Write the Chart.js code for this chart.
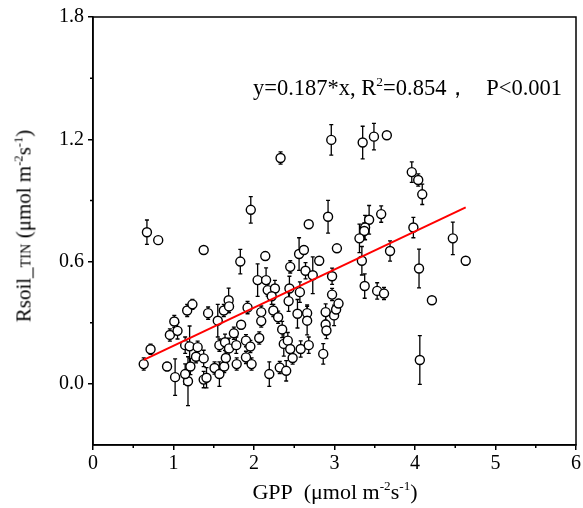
<!DOCTYPE html>
<html>
<head>
<meta charset="utf-8">
<script src="https://cdn.jsdelivr.net/npm/chart.js@4.4.1/dist/chart.umd.min.js"></script>
<style>
body{margin:0;background:#fff;}
#wrap{position:relative;width:583px;height:508px;}
.lbl{position:absolute;font-family:"Liberation Serif","Times New Roman",serif;color:#000;white-space:nowrap;}
.lbl sup{font-size:0.6em;vertical-align:0.65em;line-height:0;}
.sm{font-size:0.68em;}
#xt{left:93px;width:484px;text-align:center;top:481px;font-size:22px;line-height:22px;}
#yt{left:25px;top:226px;font-size:21px;line-height:21px;transform:translate(-50%,-50%) rotate(-90deg);}
#eq{left:253px;top:77px;font-size:22.5px;line-height:22px;}
</style>
</head>
<body>
<div id="wrap">
<canvas id="c" width="583" height="508"></canvas>
<div class="lbl" id="xt">GPP&nbsp;&nbsp;(μmol m<sup>-2</sup>s<sup>-1</sup>)</div>
<div class="lbl" id="yt">Rsoil_<span class="sm">TIN</span> (μmol m<sup>-2</sup>s<sup>-1</sup>)</div>
<div class="lbl" id="eq">y=0.187*x, R<sup>2</sup>=0.854，&nbsp;&nbsp;&nbsp;P&lt;0.001</div>
</div>
<script>
// GPP (x), Rsoil_TIN (y) and error bar half-height
const gppX = [0.63,0.715,0.92,1.02,0.955,1.01,1.05,1.17,1.235,1.145,1.2,1.18,1.145,1.21,1.30,1.28,1.375,1.375,1.41,1.43,
  1.51,1.55,1.57,1.57,1.625,1.64,1.63,1.65,1.685,1.69,1.69,1.75,1.785,1.78,1.84,1.83,1.90,1.90,1.92,1.955,
  1.97,2.045,2.065,2.09,2.09,2.14,2.15,2.17,2.19,2.24,2.26,2.30,2.32,2.35,2.37,2.40,2.42,2.43,2.44,2.45,
  2.45,2.48,2.54,2.57,2.58,2.56,2.64,2.66,2.66,2.68,2.73,2.81,2.86,2.89,2.89,2.90,2.97,2.97,2.995,3.02,
  3.05,0.67,0.81,1.375,1.96,2.33,2.96,2.92,2.68,2.62,3.03,3.35,3.49,3.65,3.96,4.04,4.09,3.43,3.38,3.37,
  3.58,3.31,3.98,3.69,3.34,4.05,4.47,4.63,3.375,3.53,3.615,4.21,4.06,2.22];
const rsoilY = [0.097,0.17,0.085,0.033,0.24,0.306,0.26,0.36,0.39,0.19,0.184,0.013,0.048,0.085,0.18,0.133,0.125,0.021,0.03,0.347,
  0.078,0.31,0.19,0.048,0.36,0.204,0.085,0.127,0.41,0.38,0.174,0.248,0.097,0.19,0.29,0.60,0.212,0.13,0.374,0.183,
  0.097,0.509,0.225,0.352,0.308,0.627,0.509,0.46,0.048,0.36,0.468,0.327,0.08,0.267,0.196,0.064,0.212,0.406,0.468,0.574,
  0.171,0.127,0.344,0.45,0.171,0.637,0.555,0.347,0.31,0.19,0.533,0.604,0.147,0.352,0.291,0.262,0.528,0.438,0.336,0.365,
  0.394,0.744,0.705,0.657,0.854,1.108,1.197,0.82,0.783,0.657,0.665,1.184,1.213,1.22,1.039,1.0,0.93,0.805,0.767,0.75,
  0.833,0.714,0.767,0.652,0.604,0.566,0.714,0.604,0.48,0.456,0.443,0.41,0.117,0.43];
const rsoilErr = [0.03,0.025,0.02,0.09,0.03,0.03,0.04,0.03,0.025,0.04,0.1,0.12,0.05,0.04,0.03,0.03,0.04,0.04,0.05,0.03,
  0.03,0.08,0.03,0.06,0.03,0.04,0.03,0.03,0.06,0.03,0.05,0.03,0.03,0.04,0.02,0.06,0.03,0.03,0.03,0.03,
  0.03,0.08,0.03,0.03,0.03,0.02,0.06,0.03,0.06,0.03,0.04,0.03,0.03,0.04,0.06,0.05,0.04,0.05,0.06,0.03,
  0.04,0.03,0.07,0.05,0.04,0.08,0.04,0.04,0.07,0.04,0.09,0.02,0.05,0.04,0.05,0.04,0.04,0.03,0.05,0.03,
  0.02,0.06,0.01,0.01,0.065,0.03,0.075,0.08,0.01,0.02,0.01,0.08,0.065,0.01,0.05,0.03,0.05,0.07,0.06,0.04,
  0.04,0.07,0.05,0.05,0.07,0.095,0.08,0.02,0.06,0.04,0.03,0.015,0.12,0.04];
// fitted line end points
const fitX = [0.63, 4.63];
const fitY = [0.118, 0.866];
const xTicks = [0,1,2,3,4,5,6];
const yTicks = [0.0,0.6,1.2,1.8];
const xMinor = [0.5,1.5,2.5,3.5,4.5,5.5];
const yMinor = [0.3,0.9,1.5];

const FONT = 'Liberation Serif';

const errorBars = {
  id:'errorBars',
  beforeDatasetsDraw(chart){
    const {ctx, scales:{x,y}} = chart;
    ctx.save();
    ctx.strokeStyle = '#000';
    ctx.lineWidth = 1.3;
    for (let i = 0; i < gppX.length; i++){
      const px = x.getPixelForValue(gppX[i]);
      const top = y.getPixelForValue(rsoilY[i] + rsoilErr[i]);
      const bot = y.getPixelForValue(rsoilY[i] - rsoilErr[i]);
      ctx.beginPath();
      ctx.moveTo(px, top); ctx.lineTo(px, bot);
      ctx.moveTo(px-2, top); ctx.lineTo(px+2, top);
      ctx.moveTo(px-2, bot); ctx.lineTo(px+2, bot);
      ctx.stroke();
    }
    ctx.restore();
  }
};

const frame = {
  id:'frame',
  afterDraw(chart){
    const {ctx, chartArea:a, scales:{x,y}} = chart;
    ctx.save();
    ctx.strokeStyle = '#000';
    ctx.lineWidth = 1.5;
    ctx.strokeRect(a.left, a.top, a.right-a.left, a.bottom-a.top);
    ctx.beginPath();
    xMinor.forEach(v => {
      const px = x.getPixelForValue(v);
      ctx.moveTo(px, a.bottom); ctx.lineTo(px, a.bottom+3);
    });
    yMinor.forEach(v => {
      const py = y.getPixelForValue(v);
      ctx.moveTo(a.left, py); ctx.lineTo(a.left-3, py);
    });
    ctx.stroke();
    ctx.restore();
  }
};

new Chart(document.getElementById('c'), {
  type:'scatter',
  data:{
    datasets:[
      {
        data: fitX.map((v,i)=>({x:v, y:fitY[i]})),
        type:'line',
        borderColor:'#ff0000',
        borderWidth:2,
        pointRadius:0,
        fill:false,
        order:0
      },
      {
        data: gppX.map((v,i)=>({x:v, y:rsoilY[i]})),
        pointRadius:4.5,
        pointBorderWidth:1.4,
        pointBackgroundColor:'#fff',
        pointBorderColor:'#000',
        order:1
      }
    ]
  },
  options:{
    responsive:false,
    animation:false,
    devicePixelRatio:1,
    layout:{padding:{left:0,right:6,top:17,bottom:0}},
    plugins:{legend:{display:false},tooltip:{enabled:false}},
    scales:{
      x:{
        type:'linear', min:0, max:6,
        afterBuildTicks(s){ s.ticks = xTicks.map(v=>({value:v})); },
        afterFit(s){ s.height = 63; },
        grid:{drawOnChartArea:false, drawTicks:true, tickLength:5, color:'#000', lineWidth:1.5},
        border:{display:true, color:'#000', width:1.5},
        ticks:{color:'#000', font:{family:FONT, size:20}, padding:2, callback:v=>String(v)}
      },
      y:{
        type:'linear', min:-0.3, max:1.8,
        afterBuildTicks(s){ s.ticks = yTicks.map(v=>({value:v})); },
        afterFit(s){ s.width = 93; },
        grid:{drawOnChartArea:false, drawTicks:true, tickLength:5, color:'#000', lineWidth:1.5},
        border:{display:true, color:'#000', width:1.5},
        ticks:{color:'#000', font:{family:FONT, size:20}, padding:4, callback:v=>v.toFixed(1)}
      }
    }
  },
  plugins:[errorBars, frame]
});
</script>
</body>
</html>
